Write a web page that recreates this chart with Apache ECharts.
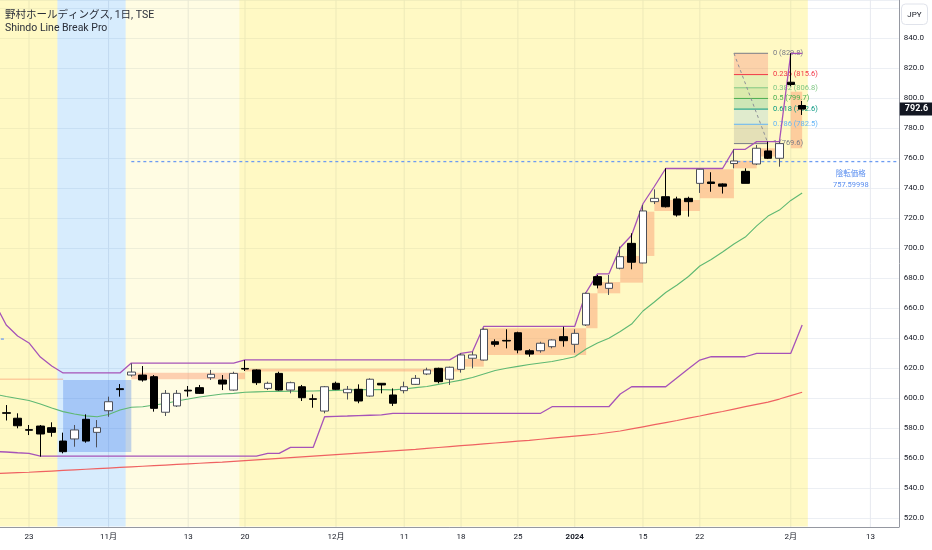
<!DOCTYPE html>
<html>
<head>
<meta charset="utf-8">
<title>野村ホールディングス</title>
<script src="https://cdn.jsdelivr.net/npm/echarts@6/dist/echarts.min.js"></script>
<style>
  html, body { margin: 0; padding: 0; background: #ffffff; }
  #chart { width: 932px; height: 550px; }
</style>
</head>
<body>
<div id="chart"></div>
<script>
const FONT = 'Roboto, "Noto Sans CJK JP", sans-serif';

// trading days shown on the axis (the last ones are empty future slots)
const dates = [
  '2023-10-18','2023-10-19','2023-10-20','2023-10-23','2023-10-24','2023-10-25','2023-10-26','2023-10-27','2023-10-30','2023-10-31',
  '2023-11-01','2023-11-02','2023-11-06','2023-11-07','2023-11-08','2023-11-09','2023-11-10','2023-11-13','2023-11-14','2023-11-15',
  '2023-11-16','2023-11-17','2023-11-20','2023-11-21','2023-11-22','2023-11-24','2023-11-27','2023-11-28','2023-11-29','2023-11-30',
  '2023-12-01','2023-12-04','2023-12-05','2023-12-06','2023-12-07','2023-12-08','2023-12-11','2023-12-12','2023-12-13','2023-12-14',
  '2023-12-15','2023-12-18','2023-12-19','2023-12-20','2023-12-21','2023-12-22','2023-12-25','2023-12-26','2023-12-27','2023-12-28',
  '2023-12-29','2024-01-04','2024-01-05','2024-01-09','2024-01-10','2024-01-11','2024-01-12','2024-01-15','2024-01-16','2024-01-17',
  '2024-01-18','2024-01-19','2024-01-22','2024-01-23','2024-01-24','2024-01-25','2024-01-26','2024-01-29','2024-01-30','2024-01-31',
  '2024-02-01','2024-02-02','2024-02-05','2024-02-06','2024-02-07','2024-02-08','2024-02-09','2024-02-13','2024-02-14','2024-02-15'
];

const tickDates = ['2023-10-23','2023-11-01','2023-11-13','2023-11-20','2023-12-01','2023-12-11','2023-12-18','2023-12-25','2024-01-04','2024-01-15','2024-01-22','2024-02-01','2024-02-13'];
const tickLabels = ['23','11月','13','20','12月','11','18','25','2024','15','22','2月','13'];

// [open, close, low, high]
const candles = [
  ['-','-','-','-'],
  [590.2, 589.8, 585.0, 595.3],
  [586.5, 581.5, 579.8, 589.8],
  [578.9, 578.5, 575.3, 582.0],
  [581.3, 576.0, 560.9, 582.0],
  [580.2, 577.1, 574.2, 583.8],
  [571.3, 564.2, 563.1, 576.9],
  [572.7, 578.7, 567.5, 582.0],
  [585.8, 571.3, 570.2, 589.1],
  [577.1, 580.2, 567.1, 585.3],
  [591.5, 597.5, 587.5, 600.9],
  [606.2, 605.6, 600.9, 609.3],
  [615.3, 617.3, 614.2, 623.1],
  [615.3, 612.0, 610.9, 621.3],
  [614.2, 593.1, 590.9, 615.3],
  [590.5, 603.1, 588.0, 605.3],
  [594.7, 603.1, 594.0, 605.3],
  [605.2, 604.7, 600.9, 608.0],
  [606.9, 603.1, 602.7, 608.7],
  [613.5, 615.8, 612.0, 618.7],
  [612.0, 609.3, 605.3, 615.3],
  [605.3, 616.4, 604.9, 617.5],
  [619.7, 619.3, 618.0, 625.3],
  [618.7, 610.2, 608.7, 619.1],
  [606.4, 609.8, 605.3, 610.9],
  [616.4, 605.3, 604.9, 617.5],
  [605.3, 610.2, 603.1, 610.9],
  [607.5, 600.2, 598.0, 608.7],
  [599.5, 599.1, 593.5, 602.4],
  [591.3, 607.5, 589.8, 608.0],
  [609.8, 605.8, 605.3, 610.9],
  [603.5, 605.8, 599.0, 608.0],
  [605.8, 598.0, 596.5, 609.1],
  [601.3, 612.5, 600.9, 613.1],
  [609.8, 608.7, 603.1, 609.8],
  [602.0, 596.5, 594.7, 606.4],
  [604.9, 607.5, 603.1, 610.9],
  [609.1, 613.1, 608.7, 615.3],
  [616.0, 618.7, 615.3, 620.2],
  [619.8, 610.9, 609.8, 620.2],
  [612.5, 620.5, 608.7, 620.9],
  [619.1, 628.7, 616.9, 629.8],
  [626.5, 628.7, 619.8, 630.9],
  [625.3, 645.8, 625.0, 646.5],
  [637.5, 635.8, 634.2, 639.1],
  [638.4, 638.0, 633.1, 645.8],
  [643.5, 632.0, 629.8, 644.2],
  [631.5, 629.3, 627.5, 632.5],
  [631.5, 636.5, 630.2, 637.5],
  [634.2, 638.7, 633.1, 639.1],
  [640.9, 638.2, 634.2, 647.5],
  [635.8, 643.1, 630.2, 645.8],
  [648.7, 669.8, 648.0, 670.4],
  [680.9, 675.3, 673.1, 682.0],
  [673.1, 676.5, 668.7, 682.0],
  [686.5, 694.2, 685.8, 700.9],
  [703.1, 690.5, 685.8, 709.8],
  [690.0, 724.7, 689.8, 728.7],
  [730.9, 733.1, 729.3, 739.1],
  [734.2, 727.5, 727.0, 753.1],
  [732.7, 722.0, 720.9, 734.2],
  [733.1, 730.9, 720.9, 734.2],
  [743.1, 752.5, 736.7, 752.7],
  [744.0, 743.0, 737.5, 750.5],
  [742.7, 741.2, 736.3, 743.1],
  [756.3, 758.0, 753.1, 765.8],
  [751.1, 743.1, 743.1, 753.1],
  [756.0, 766.5, 755.3, 768.7],
  [764.7, 759.8, 759.3, 770.9],
  [759.8, 769.6, 754.2, 770.9],
  [810.5, 809.0, 807.8, 829.8],
  [795.0, 792.6, 788.7, 798.0]
];

const upperLine = [
  663.0, 648.7, 641.3, 636.7, 627.3, 621.3,
  616.7, 616.7, 616.7, 616.7, 616.7, 616.7,
  623.3, 623.3, 623.3, 623.3, 623.3, 623.3, 623.3, 623.3, 623.3, 623.3,
  625.4, 625.4, 625.4, 625.4, 625.4, 625.4, 625.4, 625.4, 625.4, 625.4,
  625.4, 625.4, 625.4, 625.4, 625.4, 625.4, 625.4, 625.4, 625.4,
  629.8, 630.9,
  647.8, 647.8, 647.8, 647.8, 647.8, 647.8, 647.8, 647.8, 647.8,
  670.4, 682.7, 682.7, 700.3, 708.5, 729.5, 741.0,
  753.0, 753.0, 753.0, 753.0, 753.0, 753.0,
  765.8, 765.8, 770.9, 770.9, 770.9, 829.8, 829.8
];

const lowerLine = [
  564.3, 564.0, 563.5, 563.1,
  561.3, 561.3, 561.3, 561.3, 561.3, 561.3, 561.3, 561.3, 561.3, 561.3,
  561.3, 561.3, 561.3, 561.3, 561.3, 561.3, 561.3, 561.3, 561.3, 561.3,
  563.1, 563.1, 567.1, 567.1, 567.1,
  587.5, 587.8, 588.0, 588.3, 588.5, 588.7,
  589.8, 589.8, 589.8, 589.8, 589.8, 589.8, 589.8, 589.8, 589.8, 589.8, 589.8, 589.8, 589.8, 589.8,
  594.2, 594.2, 594.2, 594.2, 594.2, 594.2,
  602.7, 607.5, 607.5, 607.5, 607.5, 613.5, 619.5, 625.3,
  627.5, 627.5, 627.5, 627.5, 629.8, 629.8, 629.8, 629.8, 648.7
];

const greenLine = [
  602.5, 601.0, 599.7, 598.3, 596.0, 593.3, 590.9, 589.3, 588.1, 587.5,
  589.0, 592.0, 593.8, 594.2, 595.3, 596.3, 598.0, 599.3, 600.7, 601.7,
  602.7, 603.1, 603.8, 604.1, 604.3, 604.4, 604.5, 604.6, 604.7, 604.9,
  605.1, 605.3, 605.6, 605.7, 605.6, 605.4, 606.0, 606.9, 607.7, 609.1,
  610.5, 611.9, 613.7, 616.0, 618.3, 619.8, 621.1, 622.3, 623.3, 624.3,
  625.8, 627.5, 632.7, 636.7, 639.8, 644.3, 649.3, 658.0, 664.0, 670.3,
  675.3, 681.0, 688.0, 692.3, 697.3, 702.7, 707.3, 714.7, 721.3, 725.3,
  731.7, 736.7
];

const redLine = [
  549.6, 549.9, 550.2, 550.5, 550.9, 551.3, 551.7, 552.1, 552.5, 552.9,
  553.3, 553.7, 554.1, 554.5, 554.9, 555.3, 555.7, 556.1, 556.5, 556.9,
  557.3, 557.8, 558.3, 558.8, 559.3, 559.8, 560.3, 560.8, 561.3, 561.8,
  562.3, 562.8, 563.3, 563.8, 564.3, 564.8, 565.3, 565.8, 566.4, 567.0,
  567.6, 568.2, 568.8, 569.4, 570.0, 570.6, 571.2, 571.8, 572.5, 573.2,
  573.9, 574.6, 575.3, 576.0, 577.0, 578.0, 579.4, 580.8, 582.2, 583.6,
  585.0, 586.6, 588.0, 589.6, 591.0, 592.6, 594.2, 595.8, 597.3, 599.3,
  601.6, 603.8
];

// background sessions: [from, to, kind]
const bands = [
  ['2023-10-18', '2023-10-25', 'strong'],
  ['2023-10-26', '2023-11-02', 'blue'],
  ['2023-11-06', '2023-11-17', 'light'],
  ['2023-11-20', '2024-02-02', 'strong']
];

// line break blocks: [from, to, low, high]
const boxes = [
  ['2023-10-18', '2023-10-26', 612.0, 613.0],
  ['2023-11-06', '2023-11-20', 612.5, 616.9],
  ['2023-11-20', '2023-12-18', 617.6, 619.5],
  ['2023-12-18', '2023-12-20', 620.9, 626.0],
  ['2023-12-20', '2024-01-05', 628.7, 646.5],
  ['2024-01-05', '2024-01-09', 646.5, 669.8],
  ['2024-01-09', '2024-01-11', 669.8, 677.3],
  ['2024-01-11', '2024-01-15', 676.9, 694.7],
  ['2024-01-15', '2024-01-16', 694.7, 724.2],
  ['2024-01-16', '2024-01-22', 724.7, 732.0],
  ['2024-01-22', '2024-01-25', 733.1, 752.5],
  ['2024-01-25', '2024-01-29', 753.1, 758.2],
  ['2024-01-29', '2024-01-31', 761.0, 766.5],
  ['2024-02-01', '2024-02-02', 766.5, 804.2]
];

const highlight = [['2023-10-26', '2023-11-06', 564.0, 612.0]];

// reversal price lines: [from, to, price]
const reversals = [
  ['2023-10-18', '2023-10-19', 639.3],
  ['2023-11-06', '2024-02-15', 757.6]
];
const reversalLabels = ['', '陰転価格\n757.59998'];

const fibLevels = [0, 0.236, 0.382, 0.5, 0.618, 0.786, 1];
const fibColors = ['#787b86', '#f23645', '#81c784', '#4caf50', '#089981', '#64b5f6', '#787b86'];
const fib = [['2024-01-25', '2024-01-30', 829.8, 769.6]];

const lastClose = candles[candles.length - 1][1];

const bandColors = {
  strong: 'rgba(255, 235, 59, 0.3)',
  light: 'rgba(255, 235, 59, 0.14)',
  blue: 'rgba(33, 150, 243, 0.18)'
};

function toRgba(hex, alpha) {
  const n = parseInt(hex.slice(1), 16);
  return `rgba(${(n >> 16) & 255}, ${(n >> 8) & 255}, ${n & 255}, ${alpha})`;
}

function renderGridLine(params, api) {
  const x = api.coord([api.value(0), 0])[0];
  const cs = params.coordSys;
  return {
    type: 'line',
    shape: { x1: x, y1: cs.y, x2: x, y2: cs.y + cs.height },
    style: { stroke: '#e6e9ef', lineWidth: 1 }
  };
}

function renderBand(params, api) {
  const kind = bands[params.dataIndex][2];
  const half = api.size([1, 0])[0] / 2;
  const x0 = api.coord([api.value(0), 0])[0] - half;
  const x1 = api.coord([api.value(1), 0])[0] + half;
  const cs = params.coordSys;
  return {
    type: 'rect',
    shape: { x: x0, y: cs.y, width: x1 - x0, height: cs.height - 0.5 },
    style: { fill: bandColors[kind] }
  };
}

function rectRenderer(fill) {
  return function (params, api) {
    const p0 = api.coord([api.value(0), api.value(3)]);
    const p1 = api.coord([api.value(1), api.value(2)]);
    return {
      type: 'rect',
      shape: { x: p0[0], y: p0[1], width: p1[0] - p0[0], height: p1[1] - p0[1] },
      style: { fill: fill }
    };
  };
}

function renderReversal(params, api) {
  const cs = params.coordSys;
  const p0 = api.coord([api.value(0), api.value(2)]);
  const p1 = api.coord([api.value(1), api.value(2)]);
  const toEdge = api.value(1) === dates.length - 1;
  const xEnd = toEdge ? cs.x + cs.width : p1[0];
  const children = [{
    type: 'line',
    shape: { x1: p0[0], y1: p0[1], x2: xEnd, y2: p1[1] },
    style: { stroke: '#6d9cf2', lineWidth: 1.3, lineDash: [3, 3] }
  }];
  const label = reversalLabels[params.dataIndex];
  if (label) {
    children.push({
      type: 'text',
      x: xEnd - 48,
      y: p1[1] + 18,
      style: {
        text: label, fill: '#5b8ff0', fontSize: 7.5, lineHeight: 11,
        align: 'center', verticalAlign: 'middle', fontFamily: FONT
      }
    });
  }
  return { type: 'group', children: children };
}

function renderFib(params, api) {
  const hi = api.value(2);
  const lo = api.value(3);
  const x0 = api.coord([api.value(0), hi])[0];
  const x1 = api.coord([api.value(1), hi])[0];
  const ys = fibLevels.map(r => api.coord([api.value(0), hi - r * (hi - lo)])[1]);
  const fills = [];
  const lines = [];
  const texts = [];
  fibLevels.forEach((r, k) => {
    const price = hi - r * (hi - lo);
    if (k > 0) {
      fills.push({
        type: 'rect',
        shape: { x: x0, y: ys[k - 1], width: x1 - x0, height: ys[k] - ys[k - 1] },
        style: { fill: toRgba(fibColors[k], 0.2) }
      });
    }
    lines.push({
      type: 'line',
      shape: { x1: x0, y1: ys[k], x2: x1, y2: ys[k] },
      style: { stroke: fibColors[k], lineWidth: 1 }
    });
    texts.push({
      type: 'text',
      x: x1 + 5,
      y: ys[k],
      style: {
        text: `${r} (${price.toFixed(1)})`, fill: fibColors[k], fontSize: 7.5,
        verticalAlign: 'middle', fontFamily: FONT
      }
    });
  });
  const trend = {
    type: 'line',
    shape: { x1: x0, y1: ys[0], x2: x1, y2: ys[ys.length - 1] },
    style: { stroke: '#8c8f98', lineWidth: 1, lineDash: [3, 3] }
  };
  return { type: 'group', children: fills.concat(lines, [trend], texts) };
}

const chart = echarts.init(document.getElementById('chart'), null, { renderer: 'canvas' });

const option = {
  animation: false,
  backgroundColor: '#ffffff',
  textStyle: { fontFamily: FONT },
  title: {
    text: '野村ホールディングス, 1日, TSE',
    subtext: 'Shindo Line Break Pro',
    left: 5,
    top: 9,
    padding: 0,
    itemGap: 0,
    textStyle: { fontSize: 10.5, fontWeight: 'normal', color: '#2a2e39', lineHeight: 13, fontFamily: FONT },
    subtextStyle: { fontSize: 10.5, color: '#2a2e39', lineHeight: 13, fontFamily: FONT }
  },
  graphic: [{
    type: 'group',
    right: 4,
    top: 3.5,
    children: [
      { type: 'rect', shape: { x: 0, y: 0, width: 26, height: 20.5, r: 4 }, style: { fill: '#ffffff', stroke: '#e0e3eb', lineWidth: 1 } },
      { type: 'text', x: 13, y: 10.5, style: { text: 'JPY', fontSize: 8, fill: '#131722', align: 'center', verticalAlign: 'middle', fontFamily: FONT } }
    ]
  }],
  grid: {
    left: -10.8,
    right: 33.2,
    top: 0,
    bottom: 23,
    outerBoundsMode: 'none'
  },
  xAxis: {
    type: 'category',
    data: dates,
    boundaryGap: true,
    axisLine: { lineStyle: { color: '#9598a1' } },
    axisTick: { show: false },
    splitLine: { show: false },
    axisLabel: {
      interval: 0,
      margin: 6,
      fontSize: 8,
      color: '#131722',
      formatter: function (value) {
        const k = tickDates.indexOf(value);
        if (k < 0) {
          return '';
        }
        return tickLabels[k] === '2024' ? '{b|2024}' : tickLabels[k];
      },
      rich: { b: { fontWeight: 'bold', fontSize: 8, color: '#131722' } }
    }
  },
  yAxis: {
    type: 'value',
    position: 'right',
    min: 514,
    max: 865.33,
    splitNumber: 17,
    axisLine: { show: true, lineStyle: { color: '#9598a1' } },
    axisTick: { show: false },
    axisLabel: {
      margin: 5,
      fontSize: 8,
      color: '#131722',
      formatter: function (value) {
        if (Math.abs(value % 20) > 0.001 || value > 850) {
          return '';
        }
        return value.toFixed(1);
      }
    },
    splitLine: { lineStyle: { color: '#eceff4' } }
  },
  series: [
    {
      type: 'custom',
      name: 'vgrid',
      z: 1,
      silent: true,
      renderItem: renderGridLine,
      encode: { x: 0 },
      data: tickDates.map(d => [d])
    },
    {
      type: 'custom',
      name: 'sessions',
      z: 2,
      silent: true,
      clip: true,
      renderItem: renderBand,
      encode: { x: [0, 1] },
      data: bands.map(b => [b[0], b[1]])
    },
    {
      type: 'custom',
      name: 'blocks',
      z: 3,
      silent: true,
      clip: true,
      renderItem: rectRenderer('rgba(250, 140, 100, 0.4)'),
      encode: { x: [0, 1], y: [2, 3] },
      data: boxes
    },
    {
      type: 'custom',
      name: 'range',
      z: 3,
      silent: true,
      clip: true,
      renderItem: rectRenderer('rgba(60, 120, 235, 0.32)'),
      encode: { x: [0, 1], y: [2, 3] },
      data: highlight
    },
    {
      type: 'custom',
      name: 'fib',
      z: 4,
      silent: true,
      clip: true,
      renderItem: renderFib,
      encode: { x: [0, 1], y: [2, 3] },
      data: fib
    },
    {
      type: 'custom',
      name: 'reversal',
      z: 5,
      silent: true,
      clip: true,
      renderItem: renderReversal,
      encode: { x: [0, 1], y: 2 },
      data: reversals
    },
    {
      type: 'line',
      name: 'red',
      z: 6,
      data: redLine,
      symbol: 'none',
      silent: true,
      lineStyle: { color: '#ef6262', width: 1.2 }
    },
    {
      type: 'line',
      name: 'green',
      z: 6,
      data: greenLine,
      symbol: 'none',
      silent: true,
      lineStyle: { color: '#5fb873', width: 1.1 }
    },
    {
      type: 'line',
      name: 'lower',
      z: 6,
      data: lowerLine,
      symbol: 'none',
      silent: true,
      lineStyle: { color: '#a653b8', width: 1.3 }
    },
    {
      type: 'line',
      name: 'upper',
      z: 6,
      data: upperLine,
      symbol: 'none',
      silent: true,
      lineStyle: { color: '#a653b8', width: 1.3 }
    },
    {
      type: 'candlestick',
      name: '野村ホールディングス',
      z: 7,
      barWidth: 8,
      data: candles,
      itemStyle: {
        color: '#ffffff',
        color0: '#000000',
        borderColor: '#4c4f59',
        borderColor0: '#000000',
        borderWidth: 1
      }
    },
    {
      type: 'line',
      name: 'last price',
      z: 8,
      clip: false,
      silent: true,
      data: [],
      markLine: {
        silent: true,
        symbol: ['none', 'none'],
        animation: false,
        lineStyle: { color: 'rgba(0, 0, 0, 0)', width: 0 },
        label: {
          show: true,
          position: 'end',
          distance: 1,
          formatter: lastClose.toFixed(1),
          backgroundColor: '#131722',
          color: '#ffffff',
          fontSize: 9,
          fontWeight: 'bold',
          padding: [2, 5]
        },
        data: [{ yAxis: lastClose }]
      }
    }
  ]
};

chart.setOption(option);
</script>
</body>
</html>
